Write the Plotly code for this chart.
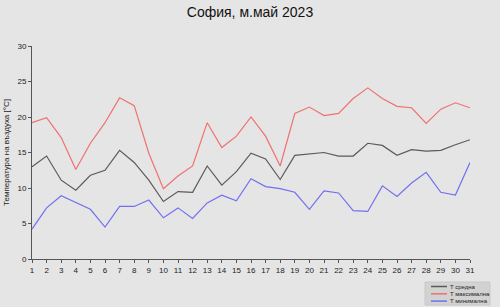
import plotly.graph_objects as go

days = list(range(1, 32))
t_mean = [13.0, 14.5, 11.1, 9.7, 11.8, 12.5, 15.3, 13.6, 11.1, 8.1, 9.5, 9.4, 13.1, 10.4, 12.3, 14.9,
          14.1, 11.2, 14.6, 14.8, 15.0, 14.5, 14.5, 16.3, 16.0, 14.6, 15.4, 15.2, 15.3, 16.1, 16.8]
t_max = [19.2, 19.9, 17.1, 12.6, 16.3, 19.2, 22.7, 21.6, 14.9, 9.9, 11.7, 13.1, 19.2, 15.7, 17.3, 20.0,
         17.3, 13.1, 20.5, 21.4, 20.2, 20.5, 22.6, 24.1, 22.6, 21.5, 21.3, 19.1, 21.1, 22.0, 21.3]
t_min = [4.2, 7.2, 8.9, 8.0, 7.0, 4.5, 7.4, 7.4, 8.3, 5.8, 7.2, 5.7, 7.9, 9.0, 8.2, 11.3,
         10.2, 9.9, 9.4, 7.0, 9.6, 9.3, 6.8, 6.7, 10.3, 8.8, 10.7, 12.2, 9.4, 9.0, 13.6]
names = ["T средна", "T максимална", "T минимална"]
colors = ["#5a5a5a", "#f07070", "#7070f0"]

W, H = 500, 307
ML, MR, MT, MB = 32, 30, 46, 48
PW, PH = W - ML - MR, H - MT - MB

fig = go.Figure()
for y, n, c in zip([t_mean, t_max, t_min], names, colors):
    fig.add_trace(go.Scatter(x=days, y=y, mode="lines", name=n,
                             line=dict(color=c, width=1.2)))

# manual legend: convert page pixels to paper (plot-area) coordinates
def px(x):
    return (x - ML) / PW

def py(y):
    return (H - MB - y) / PH

shapes = [dict(type="rect", xref="paper", yref="paper", layer="below",
               x0=px(425), x1=px(490), y0=py(282), y1=py(305),
               fillcolor="#d2d2d2", line=dict(color="#c8c8c8", width=1))]
annotations = []
for i, (n, c) in enumerate(zip(names, colors)):
    yy = 286.5 + i * 7.3
    shapes.append(dict(type="line", xref="paper", yref="paper",
                       x0=px(431), x1=px(447), y0=py(yy), y1=py(yy),
                       line=dict(color=c, width=1.5)))
    annotations.append(dict(text=n, xref="paper", yref="paper", x=px(448), y=py(yy),
                            xanchor="left", yanchor="middle", showarrow=False,
                            font=dict(size=6, color="#222222")))

bg = "#e5e5e5"
fig.update_layout(
    width=W, height=H,
    margin=dict(l=ML, r=MR, t=MT, b=MB, autoexpand=False),
    paper_bgcolor=bg, plot_bgcolor=bg,
    font=dict(family="Liberation Sans, Arial", size=8, color="#222222"),
    title=dict(text="София, м.май 2023", x=0.5, xanchor="center", y=0.96, yanchor="middle",
               font=dict(size=14, color="#111111")),
    xaxis=dict(range=[1, 31], tickmode="array", tickvals=days, showgrid=False, zeroline=False,
               showline=True, linecolor="#555555", linewidth=1, ticks="outside", ticklen=3,
               tickcolor="#555555", tickfont=dict(size=8)),
    yaxis=dict(range=[0, 30], tickvals=[0, 5, 10, 15, 20, 25, 30], showgrid=False, zeroline=False,
               showline=True, linecolor="#555555", linewidth=1, ticks="outside", ticklen=3,
               tickcolor="#555555", tickfont=dict(size=8),
               title=dict(text="Температура на въздуха [°C]", font=dict(size=8), standoff=6)),
    showlegend=False,
    shapes=shapes,
    annotations=annotations,
)
fig.write_html("out.html")
